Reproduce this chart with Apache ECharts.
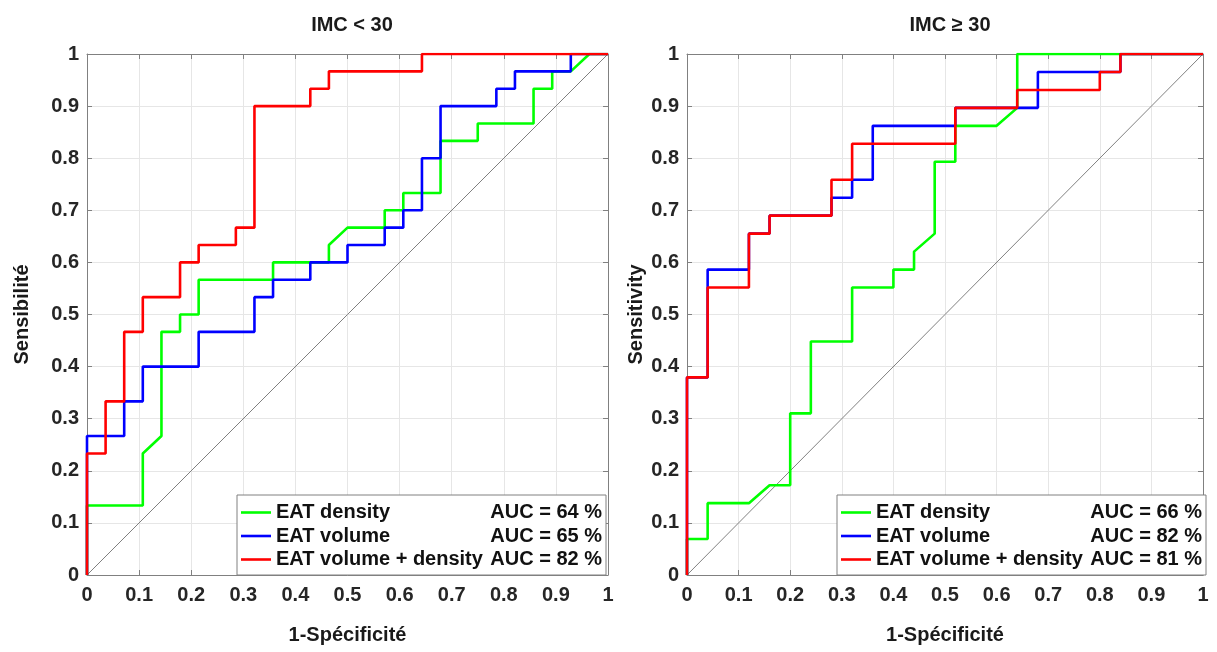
<!DOCTYPE html>
<html><head><meta charset="utf-8">
<script src="https://cdn.jsdelivr.net/npm/echarts@6/dist/echarts.min.js"></script>
<style>html,body{margin:0;padding:0;background:#fff}#c{width:1217px;height:652px}</style>
</head><body><div id="c"></div>
<script>
// ---- Data (ROC curves: x = 1-specificity, y = sensitivity) ----
const tickLabels = ['0','0.1','0.2','0.3','0.4','0.5','0.6','0.7','0.8','0.9','1'];
const seriesNames = ['EAT density', 'EAT volume', 'EAT volume + density'];
const aucLeft = ['64 %', '65 %', '82 %'];
const aucRight = ['66 %', '82 %', '81 %'];

// IMC < 30
const lDensX = [0,0,0.1071,0.1071,0.1429,0.1429,0.1786,0.1786,0.2143,0.2143,0.3571,0.3571,0.4643,0.4643,0.5,0.5714,0.5714,0.6071,0.6071,0.6786,0.6786,0.75,0.75,0.8571,0.8571,0.8929,0.8929,0.9286,0.9643,1];
const lDensY = [0,0.1333,0.1333,0.2333,0.2667,0.4667,0.4667,0.5,0.5,0.5667,0.5667,0.6,0.6,0.6333,0.6667,0.6667,0.7,0.7,0.7333,0.7333,0.8333,0.8333,0.8667,0.8667,0.9333,0.9333,0.9667,0.9667,1,1];
const lVolX = [0,0,0.0714,0.0714,0.1071,0.1071,0.2143,0.2143,0.3214,0.3214,0.3571,0.3571,0.4286,0.4286,0.5,0.5,0.5714,0.5714,0.6071,0.6071,0.6429,0.6429,0.6786,0.6786,0.7857,0.7857,0.8214,0.8214,0.9286,0.9286,1];
const lVolY = [0,0.2667,0.2667,0.3333,0.3333,0.4,0.4,0.4667,0.4667,0.5333,0.5333,0.5667,0.5667,0.6,0.6,0.6333,0.6333,0.6667,0.6667,0.7,0.7,0.8,0.8,0.9,0.9,0.9333,0.9333,0.9667,0.9667,1,1];
const lBothX = [0,0,0.0357,0.0357,0.0714,0.0714,0.1071,0.1071,0.1786,0.1786,0.2143,0.2143,0.2857,0.2857,0.3214,0.3214,0.4286,0.4286,0.4643,0.4643,0.6429,0.6429,1];
const lBothY = [0,0.2333,0.2333,0.3333,0.3333,0.4667,0.4667,0.5333,0.5333,0.6,0.6,0.6333,0.6333,0.6667,0.6667,0.9,0.9,0.9333,0.9333,0.9667,0.9667,1,1];

// IMC >= 30
const rDensX = [0,0,0.04,0.04,0.12,0.16,0.2,0.2,0.24,0.24,0.32,0.32,0.4,0.4,0.44,0.44,0.48,0.48,0.52,0.52,0.6,0.64,0.64,1];
const rDensY = [0,0.069,0.069,0.1379,0.1379,0.1724,0.1724,0.3103,0.3103,0.4483,0.4483,0.5517,0.5517,0.5862,0.5862,0.6207,0.6552,0.7931,0.7931,0.8621,0.8621,0.8966,1,1];
const rVolX = [0,0,0.04,0.04,0.12,0.12,0.16,0.16,0.28,0.28,0.32,0.32,0.36,0.36,0.52,0.52,0.68,0.68,0.84,0.84,1];
const rVolY = [0,0.3793,0.3793,0.5862,0.5862,0.6552,0.6552,0.6897,0.6897,0.7241,0.7241,0.7586,0.7586,0.8621,0.8621,0.8966,0.8966,0.9655,0.9655,1,1];
const rBothX = [0,0,0.04,0.04,0.12,0.12,0.16,0.16,0.28,0.28,0.32,0.32,0.52,0.52,0.64,0.64,0.8,0.8,0.84,0.84,1];
const rBothY = [0,0.3793,0.3793,0.5517,0.5517,0.6552,0.6552,0.6897,0.6897,0.7586,0.7586,0.8276,0.8276,0.8966,0.8966,0.931,0.931,0.9655,0.9655,1,1];

const diagX = [0, 1];
const diagY = [0, 1];

// ---- Build options ----
const zip = (xs, ys) => xs.map((x, i) => [x, ys[i]]);
const FONT = '"Liberation Sans", Arial, sans-serif';
const AX = '#808080';
const colors = ['#00ff00', '#0000ff', '#ff0000'];

function xAxes(gi, name) {
  return [
    { gridIndex: gi, type: 'value', min: 0, max: 1, interval: 0.1, position: 'bottom',
      axisLine: { show: true, onZero: false, lineStyle: { color: AX, width: 1 } },
      axisTick: { show: true, inside: true, length: 5, lineStyle: { color: AX } },
      axisLabel: { margin: 10, color: '#262626', fontSize: 20, fontWeight: 'bold', fontFamily: FONT,
        formatter: (v) => tickLabels[Math.round(v * 10)] },
      splitLine: { show: true, lineStyle: { color: '#e6e6e6', width: 1 } },
      name: name, nameLocation: 'middle', nameGap: 50,
      nameTextStyle: { color: '#1a1a1a', fontSize: 20, fontWeight: 'bold', fontFamily: FONT } },
    { gridIndex: gi, type: 'value', min: 0, max: 1, interval: 0.1, position: 'top',
      axisLine: { show: true, onZero: false, lineStyle: { color: AX, width: 1 } },
      axisTick: { show: true, inside: true, length: 5, lineStyle: { color: AX } },
      axisLabel: { show: false }, splitLine: { show: false } }
  ];
}
function yAxes(gi, name, gap) {
  return [
    { gridIndex: gi, type: 'value', min: 0, max: 1, interval: 0.1, position: 'left',
      axisLine: { show: true, onZero: false, lineStyle: { color: AX, width: 1 } },
      axisTick: { show: true, inside: true, length: 5, lineStyle: { color: AX } },
      axisLabel: { margin: 8, color: '#262626', fontSize: 20, fontWeight: 'bold', fontFamily: FONT,
        formatter: (v) => tickLabels[Math.round(v * 10)] },
      splitLine: { show: true, lineStyle: { color: '#e6e6e6', width: 1 } },
      name: name, nameLocation: 'middle', nameGap: gap, nameRotate: 90,
      nameTextStyle: { color: '#1a1a1a', fontSize: 20, fontWeight: 'bold', fontFamily: FONT } },
    { gridIndex: gi, type: 'value', min: 0, max: 1, interval: 0.1, position: 'right',
      axisLine: { show: true, onZero: false, lineStyle: { color: AX, width: 1 } },
      axisTick: { show: true, inside: true, length: 5, lineStyle: { color: AX } },
      axisLabel: { show: false }, splitLine: { show: false } }
  ];
}
function lineSeries(name, xi, yi, xs, ys, color, w) {
  return { name: name, type: 'line', xAxisIndex: xi, yAxisIndex: yi, data: zip(xs, ys),
    symbol: 'none', showSymbol: false, animation: false, silent: true,
    lineStyle: { color: color, width: w }, itemStyle: { color: color } };
}
function legend(left, top, aucs) {
  return { orient: 'vertical', left: left, top: top,
    data: seriesNames.map((n, i) => ({ name: n, icon: 'rect', itemStyle: { color: colors[i] } })),
    itemWidth: 30, itemHeight: 2.6, itemGap: 3.5, padding: [7.5, 4, 5.5, 4],
    backgroundColor: '#ffffff', borderColor: AX, borderWidth: 1, borderRadius: 0,
    selectedMode: false,
    formatter: (n) => '{n|' + n + '}{a|AUC = ' + aucs[seriesNames.indexOf(n)] + '}',
    textStyle: { color: '#111', fontSize: 20, fontWeight: 'bold', fontFamily: FONT,
      rich: {
        n: { width: 214, fontSize: 20, fontWeight: 'bold', fontFamily: FONT, color: '#111' },
        a: { width: 112, align: 'right', fontSize: 20, fontWeight: 'bold', fontFamily: FONT, color: '#111' }
      } } };
}

const gridL = { left: 87, top: 54, width: 521, height: 521 };
const gridR = { left: 687, top: 54, width: 516, height: 521 };

const option = {
  animation: false,
  backgroundColor: '#ffffff',
  title: [
    { text: 'IMC < 30', left: 347, top: 10, textAlign: 'center',
      textStyle: { color: '#1a1a1a', fontSize: 20, fontWeight: 'bold', fontFamily: FONT } },
    { text: 'IMC \u2265 30', left: 945, top: 10, textAlign: 'center',
      textStyle: { color: '#1a1a1a', fontSize: 20, fontWeight: 'bold', fontFamily: FONT } }
  ],
  grid: [gridL, gridR],
  xAxis: [...xAxes(0, '1-Sp\u00e9cificit\u00e9'), ...xAxes(1, '1-Sp\u00e9cificit\u00e9')],
  yAxis: [...yAxes(0, 'Sensibilit\u00e9', 55), ...yAxes(1, 'Sensitivity', 41)],
  legend: [legend(237, 495, aucLeft), legend(837, 495, aucRight)],
  series: [
    lineSeries('diag', 0, 0, diagX, diagY, '#808080', 1),
    lineSeries(seriesNames[0], 0, 0, lDensX, lDensY, colors[0], 2.6),
    lineSeries(seriesNames[1], 0, 0, lVolX, lVolY, colors[1], 2.6),
    lineSeries(seriesNames[2], 0, 0, lBothX, lBothY, colors[2], 2.6),
    lineSeries('diag', 2, 2, diagX, diagY, '#808080', 1),
    lineSeries(seriesNames[0], 2, 2, rDensX, rDensY, colors[0], 2.6),
    lineSeries(seriesNames[1], 2, 2, rVolX, rVolY, colors[1], 2.6),
    lineSeries(seriesNames[2], 2, 2, rBothX, rBothY, colors[2], 2.6)
  ]
};
const chart = echarts.init(document.getElementById('c'), null, { renderer: 'canvas' });
chart.setOption(option);
</script>
</body></html>
